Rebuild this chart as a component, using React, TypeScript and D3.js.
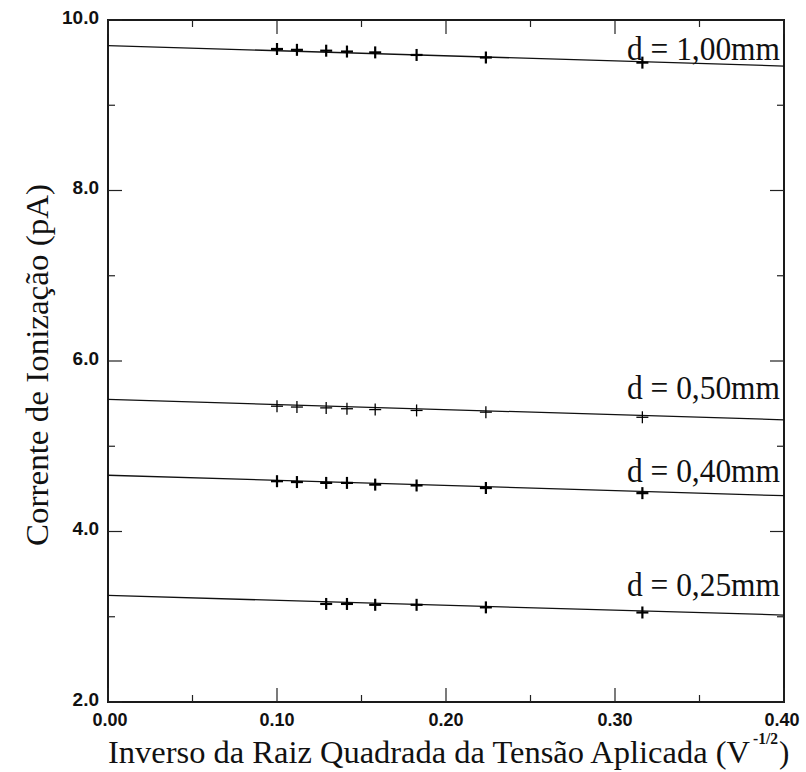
import React from "react";
import { scaleLinear, line } from "d3";

// x = 1/sqrt(V) for V = 100, 80, 60, 50, 40, 30, 20, 10
const xValues = [0.1, 0.1118, 0.1291, 0.1414, 0.1581, 0.1826, 0.2236, 0.3162];

const seriesNames = ["d = 1,00mm", "d = 0,50mm", "d = 0,40mm", "d = 0,25mm"];
const curr100 = [9.66, 9.65, 9.64, 9.63, 9.62, 9.59, 9.56, 9.5];
const curr050 = [5.47, 5.46, 5.45, 5.44, 5.43, 5.42, 5.4, 5.34];
const curr040 = [4.59, 4.58, 4.57, 4.57, 4.55, 4.54, 4.51, 4.45];
const curr025 = [null, null, 3.15, 3.15, 3.14, 3.14, 3.11, 3.05];
// fitted straight lines: value at x = 0 and at x = 0.40
const fitStart = [9.7, 5.55, 4.66, 3.25];
const fitEnd = [9.46, 5.31, 4.42, 3.02];

const xTicks = [0, 0.1, 0.2, 0.3, 0.4];
const xTickLabels = ["0.00", "0.10", "0.20", "0.30", "0.40"];
const yTicks = [2, 4, 6, 8, 10];
const yTickLabels = ["2.0", "4.0", "6.0", "8.0", "10.0"];
const xMinor = [0.05, 0.15, 0.25, 0.35];
const yMinor = [3, 5, 7, 9];

const width = 806;
const height = 772;
const margin = { left: 108, right: 22, top: 20, bottom: 70 };

export default function App() {
  const x = scaleLinear().domain([0, 0.4]).range([margin.left, width - margin.right]);
  const y = scaleLinear().domain([2, 10]).range([height - margin.bottom, margin.top]);
  const allSeries = [curr100, curr050, curr040, curr025];
  const markerWidth = [2.2, 1.3, 2.2, 2.2];
  // label baselines, in data units
  const labelY = [9.53, 5.56, 4.58, 3.24];

  const fitLine = line<number[]>()
    .x((d) => x(d[0]))
    .y((d) => y(d[1]));

  const [x0, x1] = x.range();
  const [y0, y1] = y.range();
  const serif = { fontFamily: "Liberation Serif, Times New Roman, Times, serif" };
  const sans = { fontFamily: "Liberation Sans, Arial, Helvetica, sans-serif" };

  return (
    <svg width={width} height={height} style={{ position: "absolute", left: 0, top: 0, background: "#fff" }}>
      {/* frame */}
      <rect x={x0} y={y1} width={x1 - x0} height={y0 - y1} fill="none" stroke="#1a1a1a" strokeWidth={2} />

      {/* inward ticks on all four sides */}
      {xTicks.map((t) => (
        <g key={`xt${t}`} stroke="#222" strokeWidth={1.2}>
          <line x1={x(t)} x2={x(t)} y1={y0} y2={y0 - 14} />
          <line x1={x(t)} x2={x(t)} y1={y1} y2={y1 + 14} />
        </g>
      ))}
      {xMinor.map((t) => (
        <g key={`xm${t}`} stroke="#222" strokeWidth={1.2}>
          <line x1={x(t)} x2={x(t)} y1={y0} y2={y0 - 7} />
          <line x1={x(t)} x2={x(t)} y1={y1} y2={y1 + 7} />
        </g>
      ))}
      {yTicks.map((t) => (
        <g key={`yt${t}`} stroke="#222" strokeWidth={1.2}>
          <line x1={x0} x2={x0 + 14} y1={y(t)} y2={y(t)} />
          <line x1={x1} x2={x1 - 14} y1={y(t)} y2={y(t)} />
        </g>
      ))}
      {yMinor.map((t) => (
        <g key={`ym${t}`} stroke="#222" strokeWidth={1.2}>
          <line x1={x0} x2={x0 + 7} y1={y(t)} y2={y(t)} />
          <line x1={x1} x2={x1 - 7} y1={y(t)} y2={y(t)} />
        </g>
      ))}

      {/* tick labels */}
      {yTicks.map((t, i) => (
        <text key={`yl${t}`} x={x0 - 9} y={y(t) - 3} dy="0.35em" textAnchor="end"
          style={sans} fontWeight="bold" fontSize={19} fill="#111">
          {yTickLabels[i]}
        </text>
      ))}
      {xTicks.map((t, i) => (
        <text key={`xl${t}`} x={x(t) + (i === 0 ? 2 : i === 4 ? -2 : 0)} y={y0 + 24} textAnchor="middle"
          style={sans} fontWeight="bold" fontSize={18} fill="#111">
          {xTickLabels[i]}
        </text>
      ))}

      {/* fitted lines */}
      {fitStart.map((s, i) => (
        <path key={`fit${i}`} d={fitLine([[0, s], [0.4, fitEnd[i]]]) ?? ""} fill="none" stroke="#111" strokeWidth={1.3} />
      ))}

      {/* measured points */}
      {allSeries.map((vals, si) =>
        vals.map((v, i) =>
          v == null ? null : (
            <g key={`p${si}-${i}`} stroke="#000" strokeWidth={markerWidth[si]}>
              <line x1={x(xValues[i]) - 6} x2={x(xValues[i]) + 6} y1={y(v)} y2={y(v)} />
              <line x1={x(xValues[i])} x2={x(xValues[i])} y1={y(v) - 6} y2={y(v) + 6} />
            </g>
          )
        )
      )}

      {/* series labels */}
      {seriesNames.map((name, i) => (
        <text key={name} x={x1 - 4} y={y(labelY[i])} textAnchor="end"
          style={serif} fontSize={33} fill="#111" textLength={153} lengthAdjust="spacingAndGlyphs">
          {name}
        </text>
      ))}

      {/* axis titles */}
      <text x={108} y={763} style={serif} fontSize={31} fill="#111" textLength={642} lengthAdjust="spacingAndGlyphs">
        Inverso da Raiz Quadrada da Tensão Aplicada (V
      </text>
      <text x={753} y={744} style={serif} fontWeight="bold" fontSize={17} fill="#111" textLength={25} lengthAdjust="spacingAndGlyphs">-1/2</text>
      <text x={779} y={763} style={serif} fontSize={31} fill="#111">)</text>
      <text transform={`translate(48, ${(y0 + y1) / 2 + 4}) rotate(-90)`} textAnchor="middle"
        style={serif} fontSize={31} fill="#111" textLength={362} lengthAdjust="spacingAndGlyphs">
        Corrente de Ionização (pA)
      </text>
    </svg>
  );
}
